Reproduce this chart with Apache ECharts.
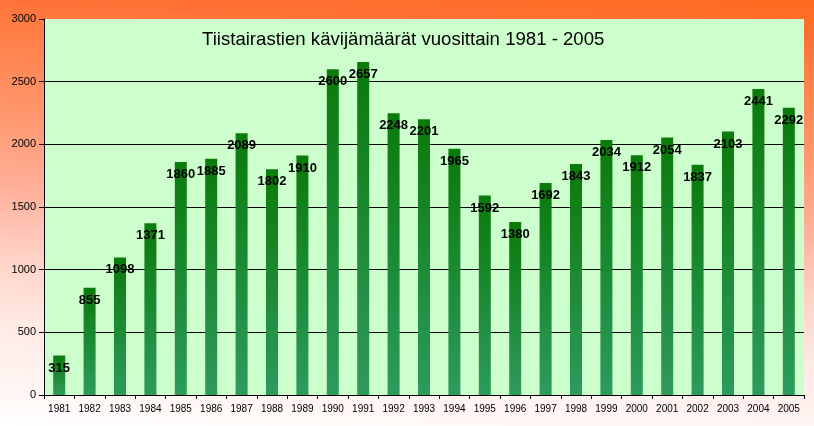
<!DOCTYPE html>
<html>
<head>
<meta charset="utf-8">
<script src="https://cdn.jsdelivr.net/npm/echarts@6/dist/echarts.min.js"></script>
<style>
html,body{margin:0;padding:0;}
#chart{width:814px;height:426px;background:linear-gradient(183deg,#FF6A1E 0%,#FF7034 8%,#FF7C42 14%,#FF9870 34%,#FFB09A 49%,#FFD0C4 63%,#FFEAE4 78%,#FFF8F6 94%,#FFFFFF 100%);}
</style>
</head>
<body>
<div id="chart"></div>
<script>
const titleText = 'Tiistairastien kävijämäärät vuosittain 1981 - 2005';
const years = ['1981','1982','1983','1984','1985','1986','1987','1988','1989','1990','1991','1992','1993','1994','1995','1996','1997','1998','1999','2000','2001','2002','2003','2004','2005'];
const visitors = [315,855,1098,1371,1860,1885,2089,1802,1910,2600,2657,2248,2201,1965,1592,1380,1692,1843,2034,1912,2054,1837,2103,2441,2292];

const chart = echarts.init(document.getElementById('chart'), null, {renderer:'canvas'});
const font = 'Liberation Sans, Arial, sans-serif';
chart.setOption({
  backgroundColor: 'transparent',
  animation: false,
  title: {
    text: titleText,
    left: 202, top: 30, padding: 0,
    textStyle: {fontFamily: font, fontSize: 18.6, fontWeight: 'normal', color: '#000'}
  },
  grid: {
    left: 44, top: 19, right: 10, bottom: 31,
    show: true, backgroundColor: '#CCFFCC', borderWidth: 0
  },
  xAxis: {
    type: 'category',
    data: years,
    boundaryGap: true,
    axisLine: {lineStyle: {color: '#000', width: 1}},
    axisTick: {show: true, alignWithLabel: false, length: 4, inside: false, lineStyle: {color: '#000'}},
    axisLabel: {fontFamily: font, fontSize: 10, color: '#000', margin: 9, interval: 0}
  },
  yAxis: {
    type: 'value',
    min: 0, max: 3000, interval: 500,
    axisLine: {show: true, lineStyle: {color: '#000', width: 1}},
    axisTick: {show: true, length: 5, lineStyle: {color: '#000'}},
    axisLabel: {fontFamily: font, fontSize: 11, color: '#000', margin: 8, formatter: function (v) { return String(v); }},
    splitLine: {show: true, showMaxLine: false, lineStyle: {color: '#000', width: 1}}
  },
  series: [{
    type: 'bar',
    data: visitors,
    barWidth: 12,
    itemStyle: {
      color: new echarts.graphic.LinearGradient(0, 0, 0, 1, [
        {offset: 0, color: '#0A7A0A'},
        {offset: 1, color: '#2E9A5E'}
      ])
    },
    label: {
      show: true,
      position: 'insideTop',
      distance: 6,
      fontFamily: font,
      fontSize: 13,
      fontWeight: 'bold',
      color: '#000'
    }
  }]
});
</script>
</body>
</html>
